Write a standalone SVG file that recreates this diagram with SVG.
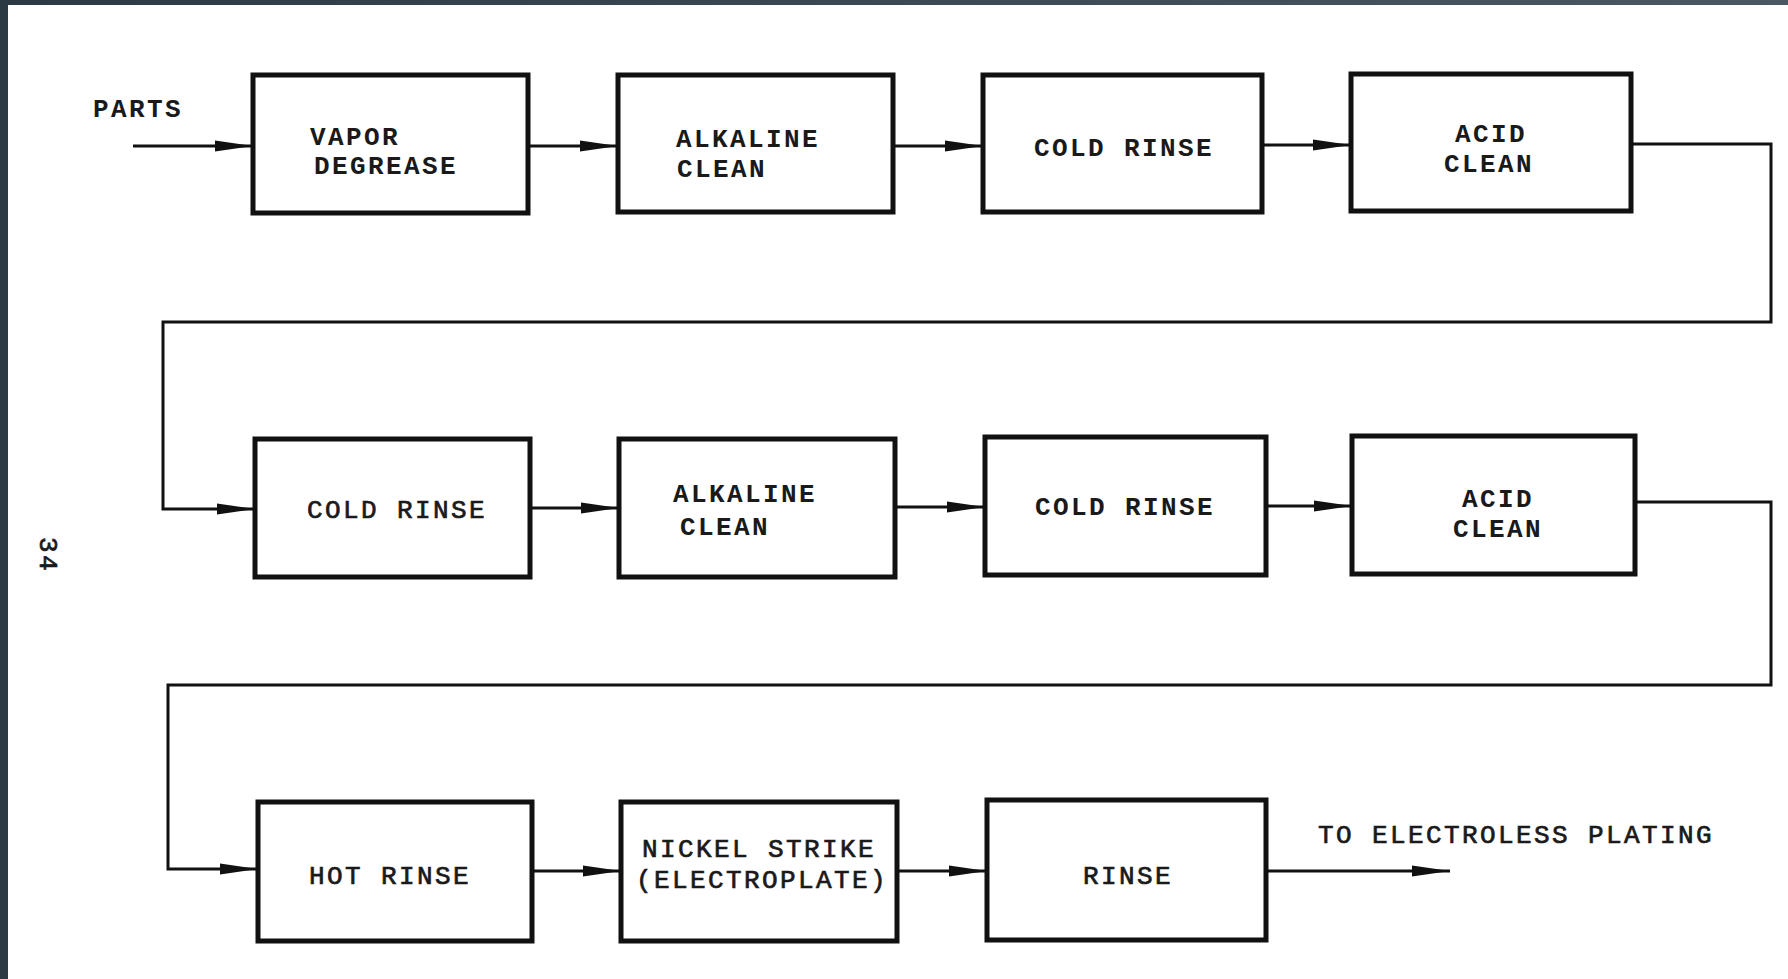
<svg xmlns="http://www.w3.org/2000/svg" width="1788" height="979" viewBox="0 0 1788 979">
<defs>
<linearGradient id="bg" x1="0" y1="0" x2="1" y2="0">
<stop offset="0" stop-color="#2c3a44"/><stop offset="1" stop-color="#4a5862"/>
</linearGradient>
<marker id="ah" markerUnits="userSpaceOnUse" markerWidth="38" markerHeight="14" refX="38" refY="7" orient="auto">
<path d="M0,1.5 L38,7 L0,12.5 z" fill="#111"/>
</marker>
<style>
.box{fill:#fff;stroke:#111;stroke-width:5}
.ln{fill:none;stroke:#111;stroke-width:3}
.t{font-family:"Liberation Mono","Courier New",monospace;font-size:26px;letter-spacing:2.4px;fill:#1a1a1a}
.b{font-weight:bold}
.r{stroke:#1a1a1a;stroke-width:0.7}
</style>
</defs>
<rect x="0" y="0" width="1788" height="979" fill="#fff"/>
<rect x="0" y="0" width="1788" height="5" fill="url(#bg)"/>
<rect x="0" y="0" width="8" height="979" fill="#2c3a44"/>

<g id="connectors">
<line class="ln" x1="133" y1="146" x2="253" y2="146" marker-end="url(#ah)"/>
<line class="ln" x1="528" y1="146" x2="618" y2="146" marker-end="url(#ah)"/>
<line class="ln" x1="893" y1="146" x2="983" y2="146" marker-end="url(#ah)"/>
<line class="ln" x1="1262" y1="145" x2="1351" y2="145" marker-end="url(#ah)"/>
<polyline class="ln" points="1631,144 1771,144 1771,322 163,322 163,509 255,509" marker-end="url(#ah)"/>
<line class="ln" x1="530" y1="508" x2="619" y2="508" marker-end="url(#ah)"/>
<line class="ln" x1="895" y1="507" x2="985" y2="507" marker-end="url(#ah)"/>
<line class="ln" x1="1266" y1="506" x2="1352" y2="506" marker-end="url(#ah)"/>
<polyline class="ln" points="1635,502 1771,502 1771,685 168,685 168,869 258,869" marker-end="url(#ah)"/>
<line class="ln" x1="532" y1="871" x2="621" y2="871" marker-end="url(#ah)"/>
<line class="ln" x1="897" y1="871" x2="987" y2="871" marker-end="url(#ah)"/>
<line class="ln" x1="1266" y1="871" x2="1450" y2="871" marker-end="url(#ah)"/>
</g>

<g id="parts"><text class="t b" x="93" y="117">PARTS</text></g>

<g id="vapor-degrease">
<rect class="box" x="253" y="75" width="275" height="138"/>
<text class="t b" x="310" y="145">VAPOR</text>
<text class="t b" x="314" y="174">DEGREASE</text>
</g>
<g id="alkaline-clean-1">
<rect class="box" x="618" y="75" width="275" height="137"/>
<text class="t b" x="676" y="147">ALKALINE</text>
<text class="t b" x="677" y="177">CLEAN</text>
</g>
<g id="cold-rinse-1">
<rect class="box" x="983" y="75" width="279" height="137"/>
<text class="t b" x="1124" y="156" text-anchor="middle">COLD RINSE</text>
</g>
<g id="acid-clean-1">
<rect class="box" x="1351" y="74" width="280" height="137"/>
<text class="t b" x="1491" y="142" text-anchor="middle">ACID</text>
<text class="t b" x="1489" y="172" text-anchor="middle">CLEAN</text>
</g>

<g id="cold-rinse-2">
<rect class="box" x="255" y="439" width="275" height="138"/>
<text class="t r" x="397" y="518" text-anchor="middle">COLD RINSE</text>
</g>
<g id="alkaline-clean-2">
<rect class="box" x="619" y="439" width="276" height="138"/>
<text class="t b" x="673" y="502">ALKALINE</text>
<text class="t b" x="680" y="535">CLEAN</text>
</g>
<g id="cold-rinse-3">
<rect class="box" x="985" y="437" width="281" height="138"/>
<text class="t b" x="1125" y="515" text-anchor="middle">COLD RINSE</text>
</g>
<g id="acid-clean-2">
<rect class="box" x="1352" y="436" width="283" height="138"/>
<text class="t b" x="1498" y="507" text-anchor="middle">ACID</text>
<text class="t b" x="1498" y="537" text-anchor="middle">CLEAN</text>
</g>

<g id="hot-rinse">
<rect class="box" x="258" y="802" width="274" height="139"/>
<text class="t r" x="390" y="884" text-anchor="middle">HOT RINSE</text>
</g>
<g id="nickel-strike">
<rect class="box" x="621" y="802" width="276" height="139"/>
<text class="t r" x="759" y="857" text-anchor="middle">NICKEL STRIKE</text>
<text class="t r" x="762" y="888" text-anchor="middle">(ELECTROPLATE)</text>
</g>
<g id="rinse">
<rect class="box" x="987" y="800" width="279" height="140"/>
<text class="t r" x="1128" y="884" text-anchor="middle">RINSE</text>
</g>
<g id="to-electroless"><text class="t r" x="1318" y="843">TO ELECTROLESS PLATING</text></g>
<g id="page-number"><text class="t r" x="0" y="0" transform="translate(40,555) rotate(90)" text-anchor="middle">34</text></g>
</svg>
